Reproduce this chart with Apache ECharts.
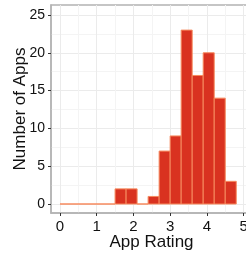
<!DOCTYPE html>
<html>
<head>
<meta charset="utf-8">
<script src="https://cdn.jsdelivr.net/npm/echarts@6/dist/echarts.min.js"></script>
<style>
html,body{margin:0;padding:0;background:#fff;}
#c{width:246px;height:256px;}
</style>
</head>
<body>
<div id="c"></div>
<script>
// Histogram data
const binStarts = [0, 0.3, 0.6, 0.9, 1.2, 1.5, 1.8, 2.1, 2.4, 2.7, 3.0, 3.3, 3.6, 3.9, 4.2, 4.5];
const binWidth = 0.3;
const counts = [0, 0, 0, 0, 0, 2, 2, 0, 1, 7, 9, 23, 17, 20, 14, 3];
const xTicks = [0, 1, 2, 3, 4, 5];
const xMinorTicks = [0.5, 1.5, 2.5, 3.5, 4.5];
const yTicks = [0, 5, 10, 15, 20, 25];
const yMinorTicks = [2.5, 7.5, 12.5, 17.5, 22.5];

const histData = binStarts.map((s, i) => [s, +(s + binWidth).toFixed(2), counts[i]]);

const FONT = 'Liberation Sans, Arial, sans-serif';
const X_MIN = -0.245, X_MAX = 5.12;
const Y_MIN = -1.19, Y_MAX = 26.32;

const chart = echarts.init(document.getElementById('c'), null, {renderer: 'canvas'});
chart.setOption({
  animation: false,
  backgroundColor: '#ffffff',
  grid: {
    left: 51, top: 5, right: -2, bottom: 43,
    outerBoundsMode: 'none', containLabel: false,
    show: true, borderColor: '#b3b3b3', borderWidth: 1.5, backgroundColor: '#ffffff'
  },
  xAxis: [
    {
      type: 'value', min: X_MIN, max: X_MAX,
      name: 'App Rating', nameLocation: 'middle', nameGap: 21, nameMoveOverlap: false,
      nameTextStyle: {fontFamily: FONT, fontSize: 17, color: '#111111', padding: [0, 0, 0, 4]},
      axisLine: {show: true, onZero: false, lineStyle: {color: '#b3b3b3', width: 1.5}},
      axisTick: {show: true, length: 3, customValues: xTicks, lineStyle: {color: '#333333', width: 1}},
      axisLabel: {show: true, customValues: xTicks, margin: 6, fontFamily: FONT, fontSize: 15, color: '#111111',
        formatter: v => String(v)},
      splitLine: {show: true, lineStyle: {color: '#ebebeb', width: 1}}
    },
    {
      type: 'value', min: X_MIN, max: X_MAX, position: 'bottom',
      axisLine: {show: false}, axisLabel: {show: false},
      axisTick: {show: false, customValues: xMinorTicks},
      splitLine: {show: true, lineStyle: {color: '#f4f4f4', width: 1}}
    }
  ],
  yAxis: [
    {
      type: 'value', min: Y_MIN, max: Y_MAX,
      name: 'Number of Apps', nameLocation: 'middle', nameGap: 22, nameMoveOverlap: false,
      nameTextStyle: {fontFamily: FONT, fontSize: 17, color: '#111111'},
      axisLine: {show: true, onZero: false, lineStyle: {color: '#b3b3b3', width: 1.5}},
      axisTick: {show: true, length: 3, customValues: yTicks, lineStyle: {color: '#333333', width: 1}},
      axisLabel: {show: true, customValues: yTicks, margin: 6, fontFamily: FONT, fontSize: 14, color: '#111111',
        formatter: v => String(v)},
      splitLine: {show: true, lineStyle: {color: '#ebebeb', width: 1}}
    },
    {
      type: 'value', min: Y_MIN, max: Y_MAX, position: 'left',
      axisLine: {show: false}, axisLabel: {show: false},
      axisTick: {show: false, customValues: yMinorTicks},
      splitLine: {show: true, lineStyle: {color: '#f4f4f4', width: 1}}
    }
  ],
  series: [{
    type: 'custom',
    xAxisIndex: 0, yAxisIndex: 0,
    encode: {x: [0, 1], y: 2},
    data: histData,
    renderItem: function (params, api) {
      const p0 = api.coord([api.value(0), api.value(2)]);
      const p1 = api.coord([api.value(1), 0]);
      return {
        type: 'rect',
        shape: {x: p0[0], y: p0[1], width: p1[0] - p0[0], height: p1[1] - p0[1]},
        style: {fill: '#d93220', stroke: '#f68a5e', lineWidth: 1}
      };
    }
  }]
});
</script>
</body>
</html>
